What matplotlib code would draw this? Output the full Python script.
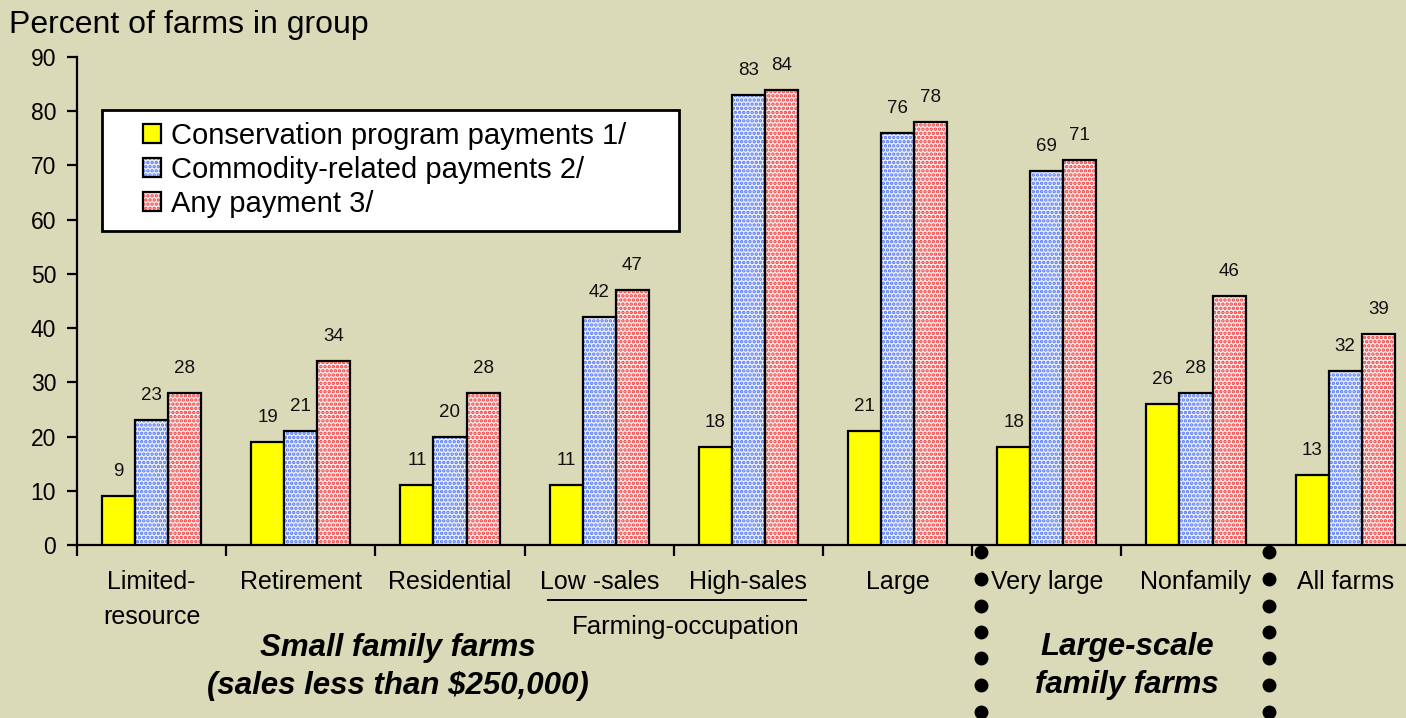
import matplotlib
matplotlib.use("Agg")
import matplotlib.pyplot as plt
import matplotlib.transforms as mtransforms
import numpy as np
from matplotlib.patches import Rectangle

plt.rcParams['font.family'] = ['Liberation Sans', 'DejaVu Sans']
plt.rcParams['hatch.linewidth'] = 1.7

categories = ["Limited-\nresource", "Retirement", "Residential", "Low -sales", "High-sales",
              "Large", "Very large", "Nonfamily", "All farms"]
series_names = ["Conservation program payments 1/", "Commodity-related payments 2/", "Any payment 3/"]
conservation = [9, 19, 11, 11, 18, 21, 18, 26, 13]
commodity = [23, 21, 20, 42, 83, 76, 69, 28, 32]
any_payment = [28, 34, 28, 47, 84, 78, 71, 46, 39]
yticks = [0, 10, 20, 30, 40, 50, 60, 70, 80, 90]

W, H = 1406, 718
bg = '#dbdab8'
fig = plt.figure(figsize=(W / 100, H / 100), dpi=100, facecolor=bg)


def fx(px):
    return px / W


def fy(py):
    return 1 - py / H


# axes geometry in pixels
ax_left, ax_bottom_px, ax_top_px = 77, 545, 57
spacing = 149.2
ax = fig.add_axes([fx(ax_left), fy(ax_bottom_px), 1 - fx(ax_left), (ax_bottom_px - ax_top_px) / H])
ax.set_facecolor('none')
ax.set_xlim(0, (W - ax_left) / spacing)
ax.set_ylim(0, 90)

x = np.arange(len(categories)) + 0.5
bw = 0.222
series = [conservation, commodity, any_payment]
faces = ['#ffff00', '#eef1fd', '#fdeeee']
hatch_cols = [None, '#4f74f2', '#f03a3a']

handles = []
for i, (vals, fc, hc) in enumerate(zip(series, faces, hatch_cols)):
    xs = x + (i - 1) * bw
    if hc is None:
        ax.bar(xs, vals, bw, color=fc, edgecolor='black', linewidth=1.6, zorder=3)
        handles.append(Rectangle((0, 0), 1, 1, facecolor=fc, edgecolor='black', linewidth=1.6))
    else:
        ax.bar(xs, vals, bw, color=fc, edgecolor=hc, linewidth=0, hatch='....', zorder=3)
        ax.bar(xs, vals, bw, color='none', edgecolor='black', linewidth=1.6, zorder=4)
        handles.append((Rectangle((0, 0), 1, 1, facecolor=fc, edgecolor=hc, linewidth=0, hatch='....'),
                        Rectangle((0, 0), 1, 1, facecolor='none', edgecolor='black', linewidth=1.6)))
    for xi, v in zip(xs, vals):
        ax.annotate(f"{v}", (xi, v), xytext=(0, 16), textcoords='offset pixels',
                    ha='center', va='bottom', fontsize=13.5, color='#111111')

for s in ['top', 'right']:
    ax.spines[s].set_visible(False)
for s in ['left', 'bottom']:
    ax.spines[s].set_linewidth(1.6)
ax.set_yticks(yticks)
ax.tick_params(axis='y', direction='out', length=7, width=1.6, labelsize=16.5, pad=8)
ax.set_xticks(np.arange(0, len(categories)))
ax.set_xticklabels([])
ax.tick_params(axis='x', direction='out', length=8, width=1.6)

# category labels (one text per line)
lab_tr = mtransforms.blended_transform_factory(ax.transData, fig.transFigure)
for xi, lab in zip(x, categories):
    for k, line in enumerate(lab.split("\n")):
        ax.text(xi, fy(582 + 35 * k), line, transform=lab_tr,
                ha='center', va='center', fontsize=18)

# Farming-occupation underline and label
fig.add_artist(plt.Line2D([fx(548), fx(806)], [fy(600), fy(600)], color='black', lw=1.4))
fig.text(fx(686), fy(627), "Farming-occupation", ha='center', va='center', fontsize=18.5)

# group labels
bi = dict(ha='center', va='center', fontsize=22.5, fontweight='bold', fontstyle='italic')
fig.text(fx(398), fy(648), "Small family farms", **bi)
fig.text(fx(398), fy(686), "(sales less than $250,000)", **bi)
fig.text(fx(1127), fy(647), "Large-scale", **bi)
fig.text(fx(1127), fy(685), "family farms", **bi)

# dotted separators
dot_y = [552, 579, 606, 632, 658, 685, 712]
for dx in [981, 1269]:
    fig.add_artist(plt.Line2D([fx(dx)] * len(dot_y), [fy(yy) for yy in dot_y], linestyle='none',
                              marker='o', markersize=9, color='black'))

# y title
fig.text(fx(9), fy(25), "Percent of farms in group", ha='left', va='center', fontsize=23)

# legend (manual frame + frameless legend)
fig.add_artist(Rectangle((fx(102), fy(231)), fx(679) - fx(102), (231 - 110) / H,
                         transform=fig.transFigure, facecolor='white', edgecolor='black',
                         linewidth=2, zorder=5))
leg = fig.legend(handles, series_names, loc='upper left', bbox_to_anchor=(fx(143), fy(122)),
                 fontsize=21, frameon=False, handlelength=0.6, handleheight=0.6,
                 handletextpad=0.35, labelspacing=0.2, borderpad=0, borderaxespad=0)
leg.set_zorder(6)

fig.savefig("out.png", dpi=100, facecolor=bg)
